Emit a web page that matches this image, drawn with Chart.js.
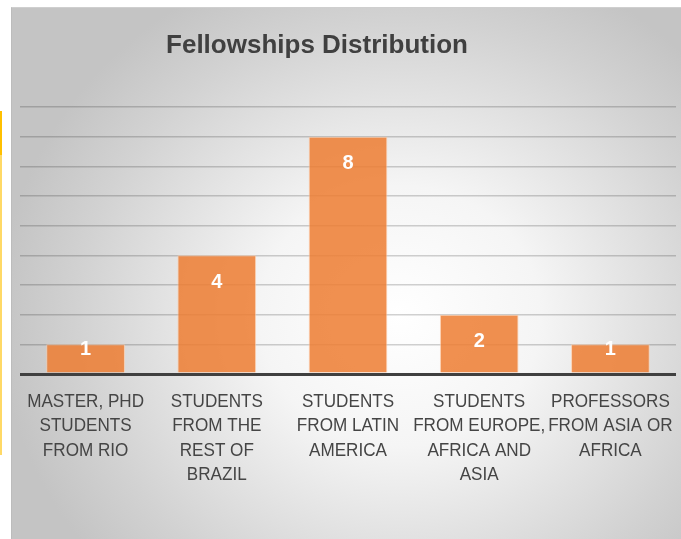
<!DOCTYPE html>
<html>
<head>
<meta charset="utf-8">
<script src="https://cdn.jsdelivr.net/npm/chart.js@4"></script>
<style>
  html, body { margin: 0; padding: 0; background: #fff; }
  body { width: 681px; height: 539px; position: relative; overflow: hidden; }
  .side-mark { position: absolute; left: 0; top: 111px; width: 2px; height: 344px;
    background: linear-gradient(to bottom, #FFC000 0, #FFC000 44px, #FFD966 44px, #FFD966 100%); }
  .panel { position: absolute; left: 11px; top: 7px; width: 670px; height: 532px;
    border-left: 1px solid #bcbcbc; border-top: 1px solid #cfcfcf; box-sizing: border-box;
    background: radial-gradient(ellipse 60% 70% at 58% 58%, #ffffff 0%, #f5f5f5 35%, #d2d2d2 80%, #c4c4c4 100%); }
</style>
</head>
<body>
<div class="side-mark"></div>
<div class="panel"><canvas id="barChart" width="669" height="531"></canvas></div>
<script>
var categories = [
  ["MASTER, PHD", "STUDENTS", "FROM RIO"],
  ["STUDENTS", "FROM THE", "REST OF", "BRAZIL"],
  ["STUDENTS", "FROM LATIN", "AMERICA"],
  ["STUDENTS", "FROM EUROPE,", "AFRICA AND", "ASIA"],
  ["PROFESSORS", "FROM ASIA OR", "AFRICA"]
];
var fellowships = [1, 4, 8, 2, 1];
var chartTitle = 'Fellowships Distribution';

// title, value labels and condensed category labels drawn by hand
var extras = {
  id: 'extras',
  afterDatasetsDraw: function(chart) {
    var ctx = chart.ctx;
    var meta = chart.getDatasetMeta(0);
    var base = chart.scales.y.getPixelForValue(0);
    ctx.save();
    ctx.fillStyle = '#ffffff';
    ctx.font = 'bold 20px "Liberation Sans", Arial, sans-serif';
    ctx.textAlign = 'center';
    ctx.textBaseline = 'middle';
    meta.data.forEach(function(bar, i) {
      var y = Math.min(bar.y + 27, base - 25);
      ctx.fillText(String(fellowships[i]), bar.x, y);
    });
    ctx.restore();
  },
  afterDraw: function(chart) {
    var ctx = chart.ctx;
    var xs = chart.scales.x;
    var bottom = chart.chartArea.bottom;
    ctx.save();
    ctx.fillStyle = '#404040';
    ctx.font = 'bold 26px "Liberation Sans", Arial, sans-serif';
    ctx.textAlign = 'center';
    ctx.textBaseline = 'alphabetic';
    ctx.fillText(chartTitle, 305, 45);

    ctx.fillStyle = '#454545';
    ctx.font = '19px "Liberation Sans", Arial, sans-serif';
    categories.forEach(function(lines, i) {
      var cx = xs.getPixelForValue(i);
      lines.forEach(function(line, j) {
        ctx.save();
        ctx.translate(cx, bottom + 33 + j * 24.3);
        ctx.scale(0.9, 1);
        ctx.fillText(line, 0, 0);
        ctx.restore();
      });
    });
    ctx.restore();
  }
};

var ctx = document.getElementById('barChart').getContext('2d');
var myBarChart = new Chart(ctx, {
  type: 'bar',
  data: {
    labels: categories,
    datasets: [
      {
        label: 'Fellowships',
        data: fellowships,
        backgroundColor: 'rgba(237,125,49,0.85)',
        borderColor: 'rgba(255,200,160,0.7)',
        borderWidth: 1,
        barPercentage: 0.6,
        categoryPercentage: 1
      }
    ]
  },
  options: {
    responsive: false,
    animation: false,
    layout: {
      padding: { top: 99, left: 8, right: 5, bottom: 35 }
    },
    scales: {
      x: {
        grid: { display: false },
        border: { display: false },
        ticks: { display: false },
        afterFit: function(scale) { scale.height = 130; }
      },
      y: {
        min: 0,
        max: 9,
        ticks: { display: false, stepSize: 1 },
        border: { display: false },
        grid: {
          drawTicks: false,
          color: function(c) { return c.tick.value === 0 ? '#404040' : 'rgba(0,0,0,0.18)'; },
          lineWidth: function(c) { return c.tick.value === 0 ? 3 : 1.5; }
        }
      }
    },
    plugins: {
      legend: { display: false },
      title: { display: false },
      tooltip: { enabled: false }
    }
  },
  plugins: [extras]
});
</script>
</body>
</html>
